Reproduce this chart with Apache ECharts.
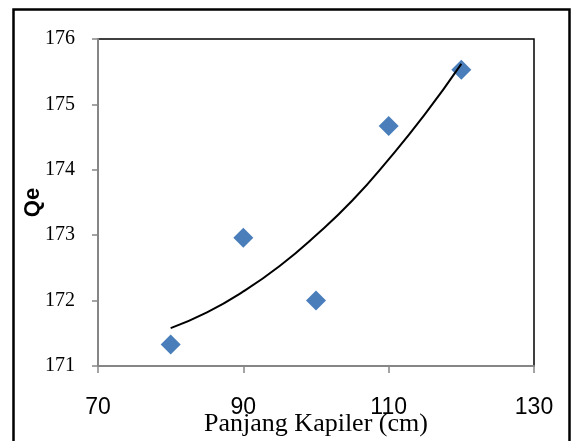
<!DOCTYPE html>
<html>
<head>
<meta charset="utf-8">
<script src="https://cdn.jsdelivr.net/npm/echarts@6/dist/echarts.min.js"></script>
<style>
  html, body { margin: 0; padding: 0; background: #fff; }
  #main { width: 571px; height: 441px; }
</style>
</head>
<body>
<div id="main"></div>
<script>
// data
var panjang = [80, 90, 100, 110, 120];
var qe = [171.33, 172.96, 172.0, 174.67, 175.53];
// trendline
var trendX = [80, 85, 90, 95, 100, 105, 110, 115, 120];
var trendY = [171.58, 171.82, 172.14, 172.53, 173.0, 173.53, 174.16, 174.85, 175.62];

var xTicks = [70, 90, 110, 130];
var yTicks = [171, 172, 173, 174, 175, 176];

var myChart = echarts.init(document.getElementById('main'));

var pts = panjang.map(function (x, i) { return [x, qe[i]]; });
var trend = trendX.map(function (x, i) { return [x, trendY[i]]; });

myChart.setOption({
  animation: false,
  backgroundColor: '#fff',
  grid: {
    left: 98,
    right: 37,
    top: 39,
    bottom: 75,
    outerBoundsMode: 'none',
    containLabel: false,
    show: true,
    borderColor: '#000',
    borderWidth: 1.5
  },
  graphic: [
    {
      type: 'rect',
      shape: { x: 13.5, y: 9.5, width: 556, height: 460 },
      style: { fill: 'none', stroke: '#000', lineWidth: 2.5 }
    }
  ],
  xAxis: {
    type: 'value',
    min: xTicks[0],
    max: xTicks[xTicks.length - 1],
    interval: 20,
    name: 'Panjang Kapiler (cm)',
    nameLocation: 'middle',
    nameGap: 45,
    nameMoveOverlap: false,
    nameTextStyle: { fontFamily: 'Liberation Serif', fontSize: 26, color: '#000' },
    axisLine: { lineStyle: { color: '#868686', width: 2 } },
    axisTick: { show: true, length: 7, lineStyle: { color: '#868686', width: 1.5 } },
    axisLabel: { fontFamily: 'Liberation Sans', fontSize: 23, color: '#000', margin: 30 },
    splitLine: { show: false }
  },
  yAxis: {
    type: 'value',
    min: yTicks[0],
    max: yTicks[yTicks.length - 1],
    interval: 1,
    name: 'Qe',
    nameLocation: 'middle',
    nameGap: 54,
    nameMoveOverlap: false,
    nameTextStyle: { fontFamily: 'Liberation Sans', fontSize: 22, fontWeight: 'bold', color: '#000' },
    axisLine: { show: true, lineStyle: { color: '#868686', width: 2 } },
    axisTick: { show: true, length: 6, lineStyle: { color: '#868686', width: 1.5 } },
    axisLabel: { fontFamily: 'Liberation Serif', fontSize: 20, color: '#000', margin: 23 },
    splitLine: { show: false }
  },
  series: [
    {
      type: 'scatter',
      data: pts,
      symbol: 'diamond',
      symbolSize: 20,
      itemStyle: { color: '#4A7EBB', opacity: 1 },
      z: 2
    },
    {
      type: 'line',
      data: trend,
      smooth: true,
      showSymbol: false,
      lineStyle: { color: '#000', width: 2 },
      z: 3
    }
  ]
});
</script>
</body>
</html>
